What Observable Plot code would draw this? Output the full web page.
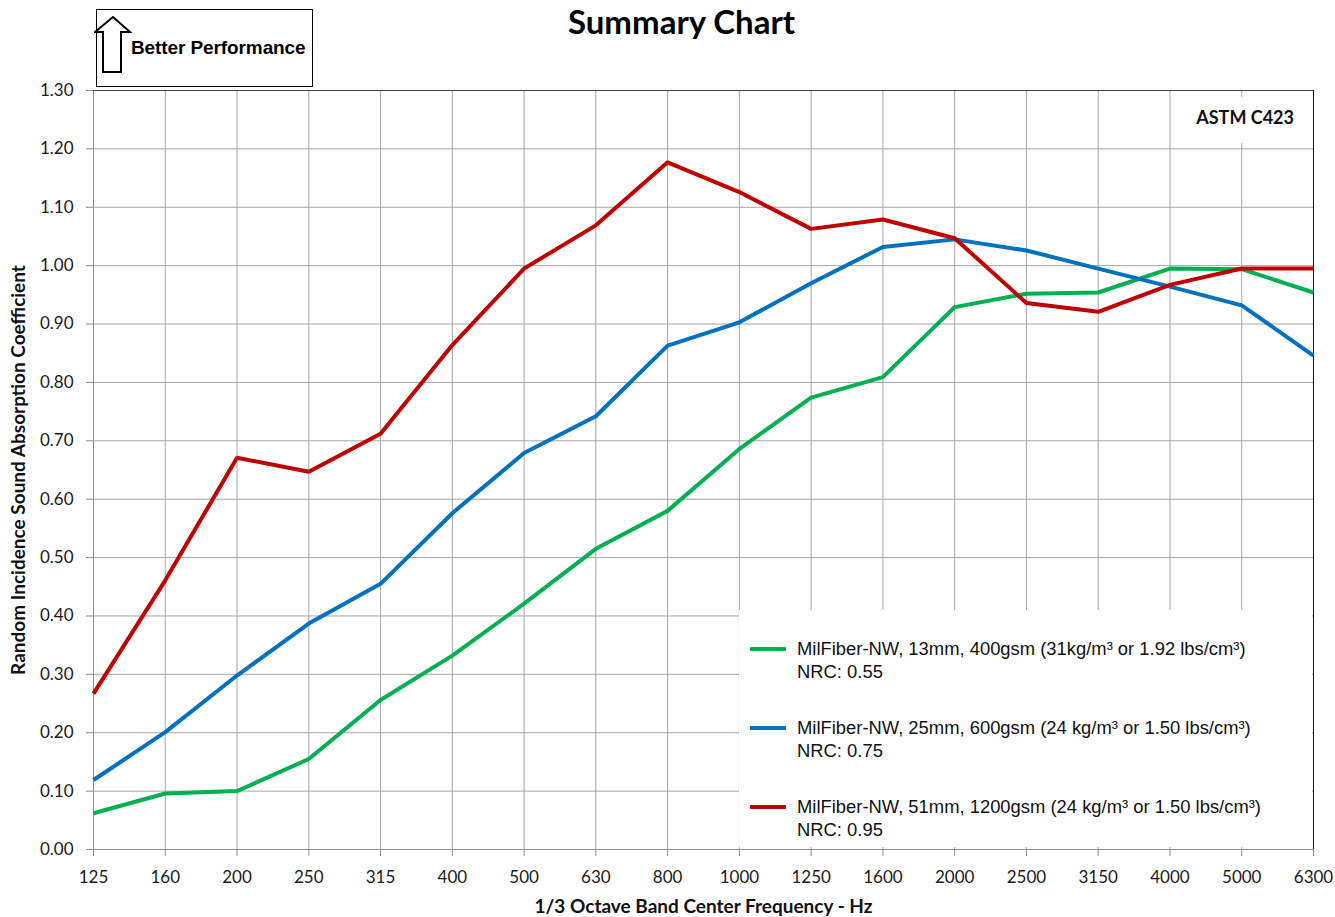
<!DOCTYPE html>
<html>
<head>
<meta charset="utf-8">
<script src="https://cdn.jsdelivr.net/npm/d3@7"></script>
<script src="https://cdn.jsdelivr.net/npm/@observablehq/plot@0.6"></script>
<style>
  html, body { margin: 0; padding: 0; background: #fff; }
  #wrap { position: relative; width: 1335px; height: 917px; overflow: hidden; }
  .ov { position: absolute; }
  #better { left: 96px; top: 9px; width: 215px; height: 76px; border: 1.5px solid #000; background: #fff; }
  #better .txt { position: absolute; left: 34px; top: 27px; font: bold 19px "Liberation Sans", Arial, sans-serif; color: #000; white-space: nowrap; letter-spacing: -0.1px; }
  #astm { left: 1172px; top: 97px; width: 140px; height: 46px; background: #fff; }
  #astm .txt { position: absolute; right: 18px; top: 9px; font: bold 18px Lato, sans-serif; color: #111; }
  #legend { left: 739px; top: 610px; width: 573px; height: 237px; background: #fff; }
  .item { position: absolute; left: 11px; font: 18.4px "Liberation Sans", Arial, sans-serif; color: #111; line-height: 23px; }
  .sw { position: absolute; left: 0; top: 10px; width: 36px; height: 4px; border-radius: 1px; }
  .lab { margin-left: 47px; white-space: nowrap; }
</style>
</head>
<body>
<div id="wrap"></div>
<script>
const freqs = ["125","160","200","250","315","400","500","630","800","1000","1250","1600","2000","2500","3150","4000","5000","6300"];
const yTicks = [0,0.1,0.2,0.3,0.4,0.5,0.6,0.7,0.8,0.9,1.0,1.1,1.2,1.3];
const green13 = [0.062,0.096,0.100,0.155,0.256,0.332,0.421,0.515,0.580,0.686,0.774,0.809,0.929,0.952,0.954,0.995,0.994,0.954];
const blue25  = [0.119,0.201,0.298,0.387,0.455,0.576,0.679,0.742,0.863,0.903,0.970,1.032,1.045,1.026,0.995,0.964,0.932,0.846];
const red51   = [0.267,0.461,0.671,0.647,0.712,0.864,0.995,1.069,1.177,1.126,1.063,1.079,1.047,0.936,0.921,0.967,0.995,0.995];
const seriesNames = [
  "MilFiber-NW, 13mm, 400gsm (31kg/m³ or 1.92 lbs/cm³)",
  "MilFiber-NW, 25mm, 600gsm (24 kg/m³ or 1.50 lbs/cm³)",
  "MilFiber-NW, 51mm, 1200gsm (24 kg/m³ or 1.50 lbs/cm³)"
];
const nrcLabels = ["NRC: 0.55","NRC: 0.75","NRC: 0.95"];
const seriesColors = ["#00b050","#0070c0","#c00000"];
const seriesValues = [green13, blue25, red51];

const rows = [];
seriesValues.forEach((vals, si) => vals.forEach((v, i) => rows.push({freq: freqs[i], value: v, series: seriesNames[si]})));

const chart = Plot.plot({
  width: 1335, height: 917,
  marginLeft: 93, marginRight: 22, marginTop: 90, marginBottom: 68,
  x: {type: "point", domain: freqs, padding: 0, inset: 0, round: false},
  y: {domain: [0, 1.3], inset: 0},
  color: {domain: seriesNames, range: seriesColors},
  style: {fontFamily: "Lato, 'Liberation Sans', sans-serif", fontSize: "17px", color: "#1a1a1a", background: "white"},
  marks: [
    Plot.gridY(yTicks, {stroke: "#a6a6a6", strokeOpacity: 1, strokeWidth: 1}),
    Plot.gridX(freqs, {stroke: "#a6a6a6", strokeOpacity: 1, strokeWidth: 1}),
    Plot.ruleY([0], {stroke: "#8c8c8c"}),
    Plot.ruleX([freqs[0]], {stroke: "#8c8c8c"}),
    Plot.ruleY([1.3], {stroke: "#404040"}),
    Plot.ruleX([freqs[freqs.length - 1]], {stroke: "#111"}),
    Plot.axisY(yTicks, {tickFormat: d => d.toFixed(2), tickSize: 7, tickPadding: 13, stroke: "#8c8c8c", fill: "#1a1a1a", label: null}),
    Plot.axisX(freqs, {tickSize: 7, tickPadding: 14, stroke: "#8c8c8c", fill: "#1a1a1a", label: null}),
    Plot.line(rows, {x: "freq", y: "value", z: "series", stroke: "series", strokeWidth: 4, strokeLinejoin: "miter", strokeLinecap: "butt"}),
    Plot.text(["Random Incidence Sound Absorption Coefficient"], {frameAnchor: "left", dx: -75, rotate: -90, textAnchor: "middle", lineAnchor: "middle", fontWeight: "bold", fontSize: 19, fill: "#111"}),
    Plot.text(["1/3 Octave Band Center Frequency - Hz"], {frameAnchor: "bottom", dy: 57, lineAnchor: "middle", fontWeight: "bold", fontSize: 19, fill: "#111"}),
    Plot.text(["Summary Chart"], {frameAnchor: "top", dy: -67, dx: -22, lineAnchor: "middle", fontSize: 33, fontWeight: "bold", fill: "#000"})
  ]
});

const wrap = document.getElementById("wrap");
wrap.appendChild(chart);

// Better performance annotation
const better = document.createElement("div");
better.className = "ov"; better.id = "better";
better.innerHTML = `<svg width="40" height="64" style="position:absolute;left:-3px;top:5px">
  <polygon points="19,2 36,17 27,17 27,57 9,57 9,17 1,17" fill="#fff" stroke="#000" stroke-width="2"/>
</svg><div class="txt">Better Performance</div>`;
wrap.appendChild(better);

// ASTM label
const astm = document.createElement("div");
astm.className = "ov"; astm.id = "astm";
astm.innerHTML = `<div class="txt">ASTM C423</div>`;
wrap.appendChild(astm);

// Legend
const legend = document.createElement("div");
legend.className = "ov"; legend.id = "legend";
const tops = [27, 106, 185];
seriesNames.forEach((name, i) => {
  const it = document.createElement("div");
  it.className = "item";
  it.style.top = tops[i] + "px";
  it.innerHTML = `<div class="sw" style="background:${seriesColors[i]}"></div><div class="lab">${name}</div><div class="lab">${nrcLabels[i]}</div>`;
  legend.appendChild(it);
});
wrap.appendChild(legend);
</script>
</body>
</html>
